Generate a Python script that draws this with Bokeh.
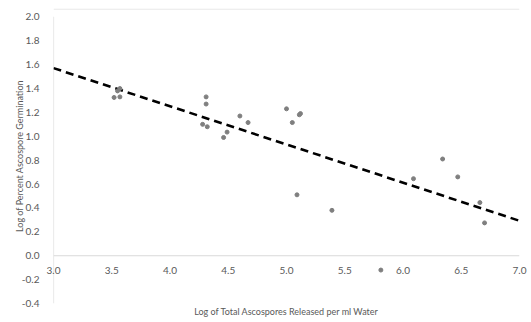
import numpy as np
from bokeh.plotting import figure
from bokeh.models import Span, FixedTicker, Range1d, CustomJSTickFormatter
from bokeh.embed import file_html
from bokeh.resources import INLINE

# Data
log_ascospores = [3.52, 3.57, 3.55, 3.57, 4.31, 4.31, 4.28, 4.32, 4.46, 4.49, 4.60, 4.67,
                  5.00, 5.12, 5.11, 5.05, 5.09, 5.39, 5.81, 6.09, 6.34, 6.47, 6.66, 6.70]
log_germination = [1.325, 1.33, 1.38, 1.40, 1.33, 1.27, 1.10, 1.08, 0.99, 1.035, 1.17, 1.115,
                   1.23, 1.19, 1.18, 1.115, 0.51, 0.38, -0.12, 0.645, 0.81, 0.66, 0.445, 0.275]
x_ticks = [3.0, 3.5, 4.0, 4.5, 5.0, 5.5, 6.0, 6.5, 7.0]
y_ticks = [-0.4, -0.2, 0.0, 0.2, 0.4, 0.6, 0.8, 1.0, 1.2, 1.4, 1.6, 1.8, 2.0]
x_title = "Log of Total Ascospores Released per ml Water"
y_title = "Log of Percent Ascospore Germination"

FONT = "Lato"
GRAY_TXT = "#595959"
AXIS_GRAY = "#d9d9d9"

# the frame extends a little above the top tick so the chart border line can sit there
Y_TOP = 2.07

p = figure(width=531, height=322, output_backend="svg", toolbar_location=None,
           x_range=Range1d(3.0, 7.0), y_range=Range1d(-0.4, Y_TOP),
           min_border_left=53, min_border_right=12, min_border_top=8, min_border_bottom=19)
p.outline_line_color = None
p.grid.grid_line_color = None

# faint chart border line at the top
p.add_layout(Span(location=Y_TOP - 0.005, dimension="width", line_color="#e3e3e3", line_width=1))

# y axis line, from the lowest to the highest tick
p.segment(x0=[x_ticks[0]], y0=[y_ticks[0]], x1=[x_ticks[0]], y1=[y_ticks[-1]],
          line_color=AXIS_GRAY, line_width=1.2)

# x axis crosses at y = 0
p.add_layout(Span(location=0, dimension="width", line_color=AXIS_GRAY, line_width=1.2))

# Linear trendline (least squares) computed from the data
slope, intercept = np.polyfit(log_ascospores, log_germination, 1)
tx = np.array([3.0, 7.0])
p.line(tx, slope * tx + intercept, line_color="black", line_width=2.6, line_dash="8 5")

p.scatter(log_ascospores, log_germination, size=4, fill_color="#7f7f7f",
          line_color="#7f7f7f")

fmt = CustomJSTickFormatter(code="return tick.toFixed(1);")

xa = p.xaxis[0]
xa.ticker = FixedTicker(ticks=x_ticks)
xa.formatter = fmt
xa.axis_line_color = None
xa.major_tick_line_color = None
xa.minor_tick_line_color = None
xa.major_label_standoff = -43
xa.major_label_text_font = FONT
xa.major_label_text_font_size = "10px"
xa.major_label_text_color = GRAY_TXT
xa.axis_label = x_title
xa.axis_label_text_font = FONT
xa.axis_label_text_font_style = "normal"
xa.axis_label_text_font_size = "9px"
xa.axis_label_text_color = GRAY_TXT
xa.axis_label_standoff = 29

ya = p.yaxis[0]
ya.ticker = FixedTicker(ticks=y_ticks)
ya.formatter = fmt
ya.axis_line_color = None
ya.major_tick_line_color = None
ya.minor_tick_line_color = None
ya.major_label_standoff = 8
ya.major_label_text_font = FONT
ya.major_label_text_font_size = "10px"
ya.major_label_text_color = GRAY_TXT
ya.axis_label = y_title
ya.axis_label_text_font = FONT
ya.axis_label_text_font_style = "normal"
ya.axis_label_text_font_size = "9px"
ya.axis_label_text_color = GRAY_TXT
ya.axis_label_standoff = -6

open("out.html", "w").write(file_html(p, INLINE))
